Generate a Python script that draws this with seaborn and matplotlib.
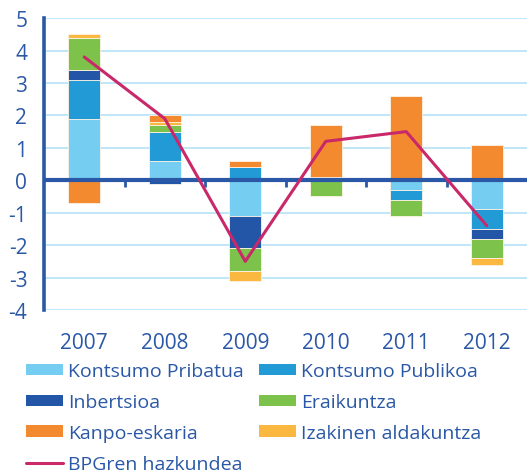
import numpy as np
import pandas as pd
import matplotlib
matplotlib.use("Agg")
import matplotlib.pyplot as plt
import seaborn as sns

# Data (percentage-point contributions to GDP growth)
years = ["2007", "2008", "2009", "2010", "2011", "2012"]
kontsumo_pribatua = [1.9, 0.6, -1.1, 0.0, -0.3, -0.9]
kontsumo_publikoa = [1.2, 0.9, 0.4, 0.1, -0.3, -0.6]
inbertsioa = [0.3, -0.1, -1.0, 0.0, 0.0, -0.3]
eraikuntza = [1.0, 0.2, -0.7, -0.5, -0.5, -0.6]
izakinen_aldakuntza = [0.1, 0.1, -0.3, 0.0, 0.0, -0.2]
kanpo_eskaria = [-0.7, 0.2, 0.2, 1.6, 2.6, 1.1]
bpg_hazkundea = [3.8, 1.9, -2.5, 1.2, 1.5, -1.4]

# stacking order (bottom -> top) and colours
series = [
    ("Kontsumo Pribatua", kontsumo_pribatua, "#75cdf2"),
    ("Kontsumo Publikoa", kontsumo_publikoa, "#229ad6"),
    ("Inbertsioa", inbertsioa, "#2356a6"),
    ("Eraikuntza", eraikuntza, "#7dc24b"),
    ("Izakinen aldakuntza", izakinen_aldakuntza, "#fbb840"),
    ("Kanpo-eskaria", kanpo_eskaria, "#f48a30"),
]
LINE_COLOR = "#c9286a"
TEXT_COLOR = "#2a58a6"
GRID_COLOR = "#b5e2f6"

sns.set_style("white")
plt.rcParams["font.family"] = ["Open Sans", "DejaVu Sans"]
plt.rcParams["axes.unicode_minus"] = False

fig = plt.figure(figsize=(5.27, 4.77), dpi=100)
ax = fig.add_axes([0.0835, 0.348, 0.9165, 0.612])

pos_base = np.zeros(len(years))
neg_base = np.zeros(len(years))
handles = {}
for name, vals, col in series:
    vals = np.array(vals, dtype=float)
    bottom = np.where(vals >= 0, pos_base, neg_base)
    df = pd.DataFrame({"year": years, "value": vals})
    sns.barplot(data=df, x="year", y="value", order=years, color=col,
                width=0.4, bottom=bottom, edgecolor="#fdf3e6", linewidth=0.6,
                saturation=1, ax=ax, zorder=3)
    pos_base = np.where(vals >= 0, pos_base + vals, pos_base)
    neg_base = np.where(vals < 0, neg_base + vals, neg_base)
    handles[name] = plt.Rectangle((0, 0), 1, 1, facecolor=col, edgecolor="none")

sns.lineplot(x=np.arange(len(years)), y=bpg_hazkundea, color=LINE_COLOR,
             linewidth=2.2, ax=ax, zorder=5)
handles["BPGren hazkundea"] = plt.Line2D([], [], color=LINE_COLOR, linewidth=2.2)

ax.set_ylim(-4, 5)
ax.set_xlim(-0.5, 5.5)
ax.set_yticks(range(-4, 6))
ax.set_xlabel("")
ax.set_ylabel("")
ax.yaxis.grid(True, color=GRID_COLOR, linewidth=1.2, zorder=0)
ax.set_axisbelow(True)

for s in ["top", "right", "bottom"]:
    ax.spines[s].set_visible(False)
ax.spines["left"].set_color(TEXT_COLOR)
ax.spines["left"].set_linewidth(2.6)
ax.spines["left"].set_zorder(6)
ax.tick_params(axis="y", colors=TEXT_COLOR, labelsize=15, length=4, width=2.6,
               direction="out", pad=8)
ax.tick_params(axis="x", colors=TEXT_COLOR, labelsize=15, length=0, pad=16)
ax.set_xticks(range(len(years)))
ax.set_xticklabels(years)

# zero line with category separators
ax.axhline(0, color=TEXT_COLOR, linewidth=3, zorder=4)
sec = ax.secondary_xaxis(4 / 9)
sec.spines["bottom"].set_visible(False)
sec.set_xticks(np.arange(0.5, 5, 1))
sec.set_xticklabels([])
sec.tick_params(axis="x", colors=TEXT_COLOR, length=5, width=2, direction="out")

order = ["Kontsumo Pribatua", "Inbertsioa", "Kanpo-eskaria", "BPGren hazkundea",
         "Kontsumo Publikoa", "Eraikuntza", "Izakinen aldakuntza"]
leg = fig.legend([handles[k] for k in order], order, ncol=2,
                 loc="upper left", bbox_to_anchor=(0.049, 0.238),
                 frameon=False, fontsize=14, handlelength=1.9, handleheight=0.55,
                 handletextpad=0.25, columnspacing=0.8, labelspacing=0.66,
                 borderaxespad=0, borderpad=0)
for t in leg.get_texts():
    t.set_color(TEXT_COLOR)

fig.savefig("out.png", dpi=100)
